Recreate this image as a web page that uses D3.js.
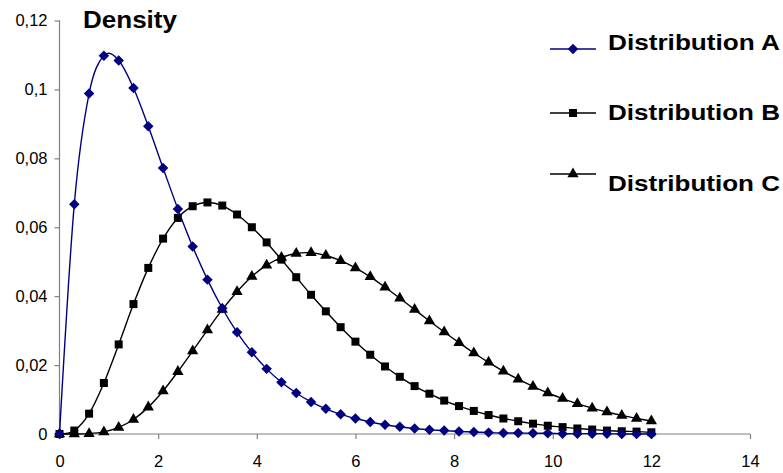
<!DOCTYPE html>
<html><head><meta charset="utf-8">
<script src="https://cdn.jsdelivr.net/npm/d3@7"></script>
<style>body{margin:0;background:#fff}svg{display:block}</style>
</head><body>
<svg id="c" width="783" height="473"></svg>
<script>
const xValues = [0,0.3,0.6,0.9,1.2,1.5,1.8,2.1,2.4,2.7,3.0,3.3,3.6,3.9,4.2,4.5,4.8,5.1,5.4,5.7,6.0,6.3,6.6,6.9,7.2,7.5,7.8,8.1,8.4,8.7,9.0,9.3,9.6,9.9,10.2,10.5,10.8,11.1,11.4,11.7,12.0];
const seriesA = [0,0.0667,0.0988,0.1098,0.1084,0.1004,0.0893,0.0772,0.0653,0.0544,0.0448,0.0365,0.0295,0.0237,0.0189,0.0150,0.0119,0.0093,0.0073,0.0057,0.0045,0.0035,0.0027,0.0021,0.0016,0.0012,0.0010,0.0007,0.0006,0.0004,0.0003,0.0003,0.0002,0.0002,0.0001,0.0001,0.0001,0.0001,0.0000,0.0000,0.0000];
const seriesB = [0,0.0010,0.0059,0.0148,0.0260,0.0377,0.0482,0.0567,0.0627,0.0661,0.0672,0.0663,0.0637,0.0600,0.0556,0.0506,0.0455,0.0404,0.0356,0.0310,0.0268,0.0230,0.0196,0.0166,0.0139,0.0117,0.0097,0.0081,0.0067,0.0055,0.0045,0.0037,0.0030,0.0024,0.0020,0.0016,0.0013,0.0010,0.0008,0.0007,0.0005];
const seriesC = [0,0.0000,0.0001,0.0006,0.0019,0.0042,0.0078,0.0125,0.0181,0.0241,0.0302,0.0361,0.0413,0.0457,0.0490,0.0512,0.0524,0.0526,0.0518,0.0503,0.0482,0.0456,0.0426,0.0394,0.0361,0.0328,0.0296,0.0265,0.0235,0.0208,0.0182,0.0159,0.0138,0.0119,0.0103,0.0088,0.0075,0.0064,0.0054,0.0045,0.0038];
const seriesNames = ["Distribution A","Distribution B","Distribution C"];
const xTicks = [0,2,4,6,8,10,12,14];
const xTickLabels = ["0","2","4","6","8","10","12","14"];
const yTicks = [0,0.02,0.04,0.06,0.08,0.1,0.12];
const yTickLabels = ["0","0,02","0,04","0,06","0,08","0,1","0,12"];
const yTitle = "Density";

const svg = d3.select("#c");
const x = d3.scaleLinear().domain([0,14]).range([59.5,750]);
const y = d3.scaleLinear().domain([0,0.12]).range([434,20.5]);
const axisColor = "#808080";
const font = "Liberation Sans, Arial, sans-serif";

// axes
const gx = svg.append("g").attr("transform","translate(0,434)")
  .call(d3.axisBottom(x).tickValues(xTicks).tickSize(5).tickPadding(16)
    .tickFormat((d,i)=>xTickLabels[i]));
const gy = svg.append("g").attr("transform","translate(59.5,0)")
  .call(d3.axisLeft(y).tickValues(yTicks).tickSize(5).tickPadding(7)
    .tickFormat((d,i)=>yTickLabels[i]));
[gx,gy].forEach(g=>{
  g.select(".domain").attr("stroke",axisColor).attr("stroke-width",1.2);
  g.selectAll(".tick line").attr("stroke",axisColor).attr("stroke-width",1.2);
  g.selectAll("text").attr("fill","#000").style("font-family",font).style("font-size","16.5px");
});
gx.select(".domain").attr("d","M59.5,0H750");
gy.select(".domain").attr("d","M0,20.5V434");

svg.append("text").attr("x",83).attr("y",27.5).text(yTitle)
  .attr("textLength",94).attr("lengthAdjust","spacingAndGlyphs")
  .style("font-family",font).style("font-weight","bold").style("font-size","23px");

const diamond = {draw(ctx,size){const r=Math.sqrt(size/2);ctx.moveTo(0,-r);ctx.lineTo(r,0);ctx.lineTo(0,r);ctx.lineTo(-r,0);ctx.closePath();}};
const series = [
  {name:seriesNames[0], vals:seriesA, color:"#000080", sym:diamond, size:55},
  {name:seriesNames[1], vals:seriesB, color:"#000000", sym:d3.symbolSquare, size:64},
  {name:seriesNames[2], vals:seriesC, color:"#000000", sym:d3.symbolTriangle, size:55}
];
const line = d3.line().x((d,i)=>x(xValues[i])).y(d=>y(d)).curve(d3.curveCardinal.tension(0));

// draw C first, then B, then A on top
[2,1,0].forEach(k=>{
  const s = series[k];
  svg.append("path").datum(s.vals).attr("d",line).attr("fill","none")
    .attr("stroke",s.color).attr("stroke-width",1.4);
  svg.append("g").selectAll("path").data(s.vals).join("path")
    .attr("transform",(d,i)=>`translate(${x(xValues[i])},${y(d)})`)
    .attr("d",d3.symbol(s.sym,s.size)).attr("fill",s.color);
});

// legend
const legLineY = [49,113,174];
const legTextY = [50,120,191];
series.forEach((s,k)=>{
  svg.append("line").attr("x1",550).attr("x2",596).attr("y1",legLineY[k]).attr("y2",legLineY[k])
    .attr("stroke",s.color).attr("stroke-width",1.4);
  svg.append("path").attr("transform",`translate(573,${legLineY[k]})`)
    .attr("d",d3.symbol(s.sym,s.size)).attr("fill",s.color);
  svg.append("text").attr("x",608).attr("y",legTextY[k]).text(s.name)
    .attr("textLength",172).attr("lengthAdjust","spacingAndGlyphs")
    .style("font-family",font).style("font-weight","bold").style("font-size","22px");
});
</script>
</body></html>
